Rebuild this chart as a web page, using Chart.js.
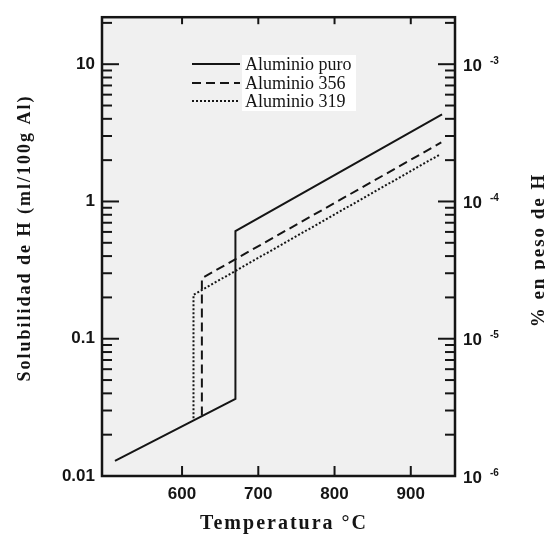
<!DOCTYPE html>
<html lang="es">
<head>
<meta charset="UTF-8">
<title>Solubilidad de H en aluminio</title>
<script src="https://cdn.jsdelivr.net/npm/chart.js"></script>
<style>
  body { margin: 0; background: #fff; }
  #wrap { width: 545px; height: 537px; position: relative; }
</style>
</head>
<body>
<div id="wrap"><canvas id="chart"></canvas></div>
<script>
  // valores
  const seriesNames = ['Aluminio puro', 'Aluminio 356', 'Aluminio 319'];
  const puroTemp = [512, 670, 670, 941];
  const puroSol  = [0.0129, 0.0365, 0.608, 4.31];
  const a356Temp = [626, 626, 940];
  const a356Sol  = [0.0276, 0.276, 2.69];
  const a319Temp = [615, 615, 937];
  const a319Sol  = [0.0263, 0.209, 2.18];

  const xTicks = [600, 700, 800, 900];
  const yTicks = [0.01, 0.1, 1, 10];
  const yTickLabels = ['0.01', '0.1', '1', '10'];
  const rightExponents = ['-6', '-5', '-4', '-3'];   // % en peso = 10^exp

  const xTitle = 'Temperatura °C';
  const yTitle = 'Solubilidad de H (ml/100g Al)';
  const y2Title = '% en peso de H';

  const ink = '#151515';
  const toPoints = (xs, ys) => xs.map((x, i) => ({ x: x, y: ys[i] }));

  function seg(ctx, x1, y1, x2, y2) {
    ctx.beginPath();
    ctx.moveTo(x1, y1);
    ctx.lineTo(x2, y2);
    ctx.stroke();
  }

  // fondo gris, marco, marcas hacia dentro, etiquetas derechas y titulos
  const frame = {
    id: 'frame',
    beforeDatasetsDraw(chart) {
      const { ctx, chartArea: a } = chart;
      ctx.save();
      ctx.fillStyle = '#f0f0f0';
      ctx.fillRect(a.left, a.top, a.right - a.left, a.bottom - a.top);
      ctx.restore();
    },
    afterDraw(chart) {
      const { ctx, chartArea: a, scales } = chart;
      const y = scales.y, x = scales.x, y2 = scales.y2;
      ctx.save();
      ctx.strokeStyle = ink;
      ctx.lineWidth = 2;
      for (let d = -2; d <= 1; d++) {
        for (let m = 1; m <= 9; m++) {
          const v = m * Math.pow(10, d);
          if (v > y.max) break;
          const py = y.getPixelForValue(v);
          const len = m === 1 ? 17 : 10;
          seg(ctx, a.left, py, a.left + len, py);
          seg(ctx, a.right, py, a.right - len, py);
        }
      }
      xTicks.forEach(v => {
        const px = x.getPixelForValue(v);
        seg(ctx, px, a.bottom, px, a.bottom - 10);
        seg(ctx, px, a.top, px, a.top + 7);
      });
      ctx.lineWidth = 2.5;
      ctx.strokeRect(a.left, a.top, a.right - a.left, a.bottom - a.top);

      // etiquetas del eje derecho: 10 con exponente
      ctx.fillStyle = ink;
      ctx.textBaseline = 'middle';
      ctx.textAlign = 'left';
      yTicks.forEach((v, i) => {
        const py = y2.getPixelForValue(v);
        ctx.font = 'bold 17px "Liberation Sans", Arial, sans-serif';
        ctx.fillText('10', a.right + 8, py + 2);
        const w = ctx.measureText('10').width;
        ctx.font = 'bold 10px "Liberation Sans", Arial, sans-serif';
        ctx.fillText(rightExponents[i], a.right + 8 + w + 8, py - 3);
      });

      // titulos de los ejes
      ctx.textAlign = 'center';
      ctx.font = 'bold 20px "Liberation Serif", "Times New Roman", serif';
      ctx.letterSpacing = '2px';
      ctx.fillText(xTitle, 284, 524);

      ctx.font = 'bold 18px "Liberation Serif", "Times New Roman", serif';
      ctx.letterSpacing = '2px';
      ctx.translate(25, 238);
      ctx.rotate(-Math.PI / 2);
      ctx.fillText(yTitle, 0, 0);
      ctx.setTransform(1, 0, 0, 1, 0, 0);

      ctx.font = 'bold 19px "Liberation Serif", "Times New Roman", serif';
      ctx.letterSpacing = '2px';
      ctx.translate(539, 250);
      ctx.rotate(-Math.PI / 2);
      ctx.fillText(y2Title, 0, 0);
      ctx.restore();
    }
  };

  // leyenda dentro del grafico
  const legendBox = {
    id: 'legendBox',
    afterDraw(chart) {
      const { ctx } = chart;
      const rows = [64, 83, 101];
      ctx.save();
      ctx.fillStyle = '#fff';
      ctx.fillRect(242, 55, 114, 56);
      chart.data.datasets.forEach((ds, i) => {
        ctx.strokeStyle = ink;
        ctx.lineWidth = 2;
        ctx.setLineDash(ds.borderDash || []);
        seg(ctx, 192, rows[i], 240, rows[i]);
        ctx.setLineDash([]);
        ctx.fillStyle = ink;
        ctx.font = '18px "Liberation Serif", "Times New Roman", serif';
        ctx.textBaseline = 'middle';
        ctx.fillText(ds.label, 245, rows[i] + 1);
      });
      ctx.restore();
    }
  };

  const lineStyle = { borderColor: ink, borderWidth: 2, pointRadius: 0, tension: 0, fill: false };

  new Chart(document.getElementById('chart'), {
    type: 'line',
    data: {
      datasets: [
        { ...lineStyle, label: seriesNames[0], data: toPoints(puroTemp, puroSol) },
        { ...lineStyle, label: seriesNames[1], data: toPoints(a356Temp, a356Sol), borderDash: [9, 5] },
        { ...lineStyle, label: seriesNames[2], data: toPoints(a319Temp, a319Sol), borderDash: [2, 2] }
      ]
    },
    options: {
      responsive: true,
      maintainAspectRatio: false,
      animation: false,
      layout: { padding: { top: 14 } },
      plugins: { legend: { display: false }, tooltip: { enabled: false } },
      scales: {
        x: {
          type: 'linear',
          min: 495,
          max: 958,
          afterBuildTicks: s => { s.ticks = xTicks.map(v => ({ value: v })); },
          afterFit: s => { s.height = 61; },
          grid: { display: false, drawTicks: false },
          border: { display: false },
          ticks: {
            padding: 8,
            color: ink,
            font: { family: '"Liberation Sans", Arial, sans-serif', size: 17, weight: 'bold' }
          }
        },
        y: {
          type: 'logarithmic',
          min: 0.01,
          max: 22,
          afterBuildTicks: s => { s.ticks = yTicks.map(v => ({ value: v })); },
          afterFit: s => { s.width = 102; },
          grid: { display: false, drawTicks: false },
          border: { display: false },
          ticks: {
            padding: 7,
            color: ink,
            font: { family: '"Liberation Sans", Arial, sans-serif', size: 17, weight: 'bold' },
            callback: (v, i) => yTickLabels[i]
          }
        },
        y2: {
          type: 'logarithmic',
          position: 'right',
          min: 0.01,
          max: 22,
          afterFit: s => { s.width = 90; },
          grid: { display: false, drawTicks: false },
          border: { display: false },
          ticks: { display: false }
        }
      }
    },
    plugins: [frame, legendBox]
  });
</script>
</body>
</html>
